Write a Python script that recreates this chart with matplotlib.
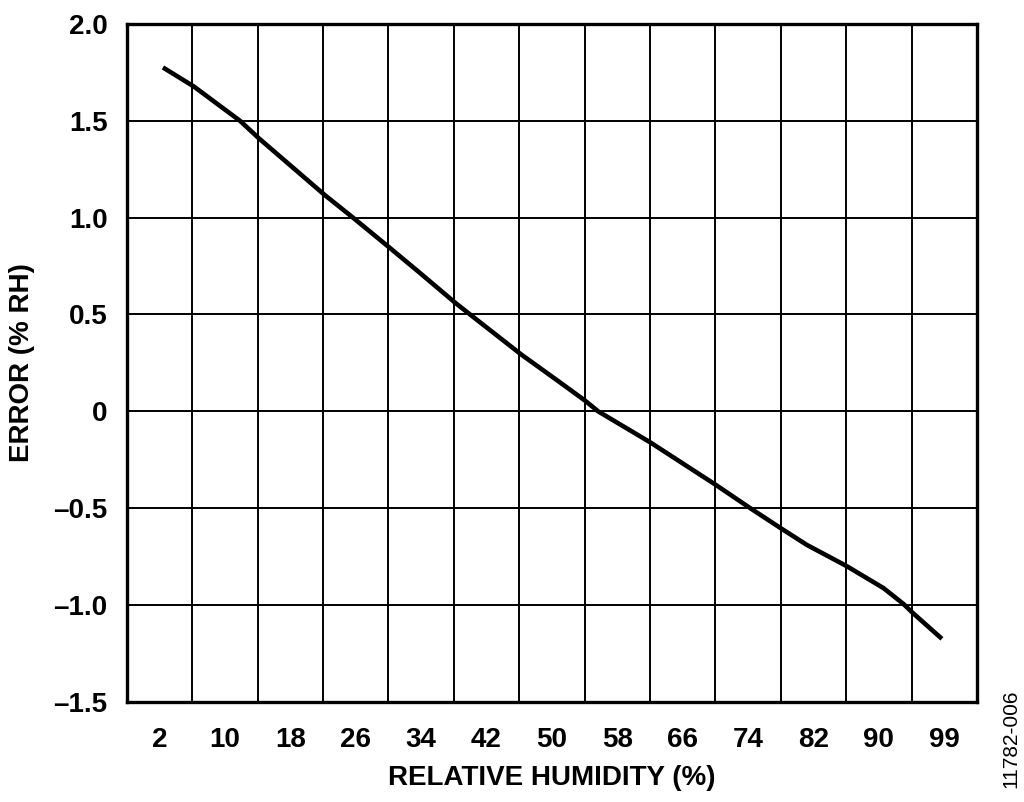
import numpy as np
import matplotlib
matplotlib.use('Agg')
import matplotlib.pyplot as plt

# rótulos do eixo x (colunas categóricas)
rh_labels = ['2', '10', '18', '26', '34', '42', '50', '58', '66', '74', '82', '90', '99']

# pontos: posição na escala de colunas (0 = "2", 12 = "99") e erro
curve_pos = [0.05, 0.525, 1.23, 1.524, 2.525, 2.958, 3.524, 3.983, 4.523, 4.748,
             5.528, 6.125, 6.507, 6.706, 7.502, 8.507, 9.032, 9.506, 9.899,
             10.511, 11.071, 11.377, 11.515, 11.965]
curve_err = [1.776, 1.677, 1.50, 1.408, 1.117, 1.0, 0.843, 0.714, 0.56, 0.5,
             0.294, 0.149, 0.055, 0.0, -0.16, -0.38, -0.5, -0.605, -0.69,
             -0.80, -0.913, -0.995, -1.04, -1.175]

y_ticks = [-1.5, -1.0, -0.5, 0, 0.5, 1.0, 1.5, 2.0]
y_tick_labels = ['\u20131.5', '\u20131.0', '\u20130.5', '0', '0.5', '1.0', '1.5', '2.0']

plt.rcParams['font.family'] = ['Liberation Sans', 'DejaVu Sans']

fig = plt.figure(figsize=(10.24, 8.02), dpi=100)
ax = fig.add_axes([0.124, 0.125, 0.830, 0.845])

n = len(rh_labels)
ax.set_xlim(-0.5, n - 0.5)
ax.set_ylim(-1.5, 2.0)

# grade: linhas verticais entre as colunas, horizontais a cada 0.5
for xg in np.arange(0.5, n - 0.5, 1.0):
    ax.axvline(xg, color='black', lw=1.4, zorder=1)
for yg in y_ticks[1:-1]:
    ax.axhline(yg, color='black', lw=1.4, zorder=1)

ax.plot(curve_pos, curve_err, color='black', lw=3.3, solid_capstyle='butt',
        solid_joinstyle='round', zorder=3)

ax.set_xticks(range(n))
ax.set_xticklabels(rh_labels, fontsize=20, fontweight='bold')
ax.set_yticks(y_ticks)
ax.set_yticklabels(y_tick_labels, fontsize=20, fontweight='bold')
ax.tick_params(length=0)
ax.tick_params(axis='x', pad=18)
ax.tick_params(axis='y', pad=14)

for s in ax.spines.values():
    s.set_linewidth(2.4)

ax.set_xlabel('RELATIVE HUMIDITY (%)', fontsize=20, fontweight='bold', labelpad=9)
ax.set_ylabel('ERROR (% RH)', fontsize=20, fontweight='bold', labelpad=13)

fig.text(0.987, 0.079, '11782-006', rotation=90, fontsize=15, ha='center', va='center')

fig.savefig('out.png', dpi=100)
